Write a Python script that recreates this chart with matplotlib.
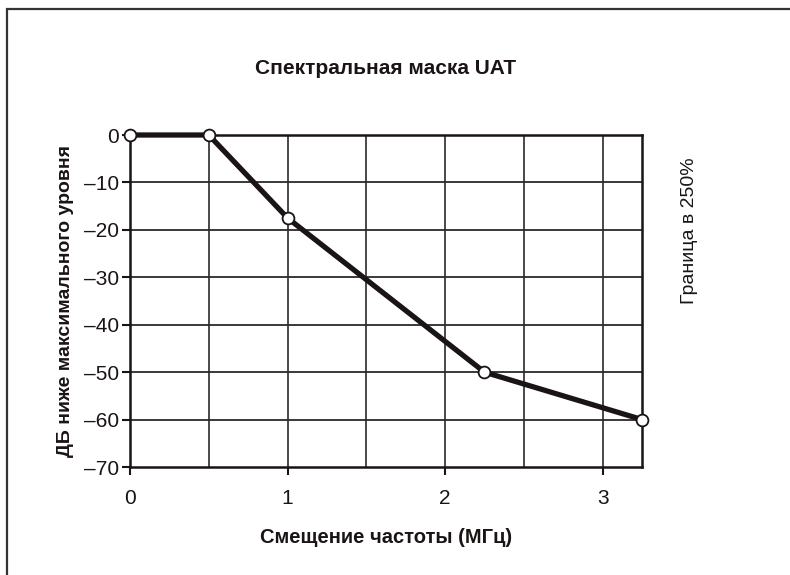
import matplotlib
matplotlib.use('Agg')
import matplotlib.pyplot as plt
from matplotlib.patches import Rectangle
import numpy as np

plt.rcParams['font.family'] = ['Liberation Sans Narrow', 'Liberation Sans', 'DejaVu Sans']

# данные
freq = [0, 0.5, 1.0, 2.25, 3.25]        # МГц
level = [0, 0, -17.5, -50, -60]          # дБ
xticks = [0, 1, 2, 3]
yticks = [0, -10, -20, -30, -40, -50, -60, -70]
ytick_labels = ['0', '–10', '–20', '–30', '–40', '–50', '–60', '–70']
xgrid = [0.5, 1.0, 1.5, 2.0, 2.5, 3.0]

fig = plt.figure(figsize=(7.9, 5.75), dpi=100)
ax = fig.add_axes([0.1646, 0.1878, 0.6481, 0.5774])

# рамка вокруг рисунка (видны левая и верхняя стороны)
fig.patches.append(Rectangle((7/790, -0.1), 1.2, 1 - 9/575 + 0.1,
                             transform=fig.transFigure, fill=False,
                             edgecolor='#333333', lw=1.6))

for xv in xgrid:
    ax.axvline(xv, color='#3a3a3a', lw=1.3, zorder=1)
for yv in yticks[1:-1]:
    ax.axhline(yv, color='#2a2a2a', lw=1.3, zorder=1)

ax.plot(freq, level, color='#1a1414', lw=3.8, marker='o', ms=8.5,
        mfc='white', mec='#1a1414', mew=1.3, zorder=3, clip_on=False)

ax.set_xlim(0, 3.25)
ax.set_ylim(-70, 0)
ax.set_xticks(xticks)
ax.set_xticklabels([str(v) for v in xticks])
ax.set_yticks(yticks)
ax.set_yticklabels(ytick_labels)
ax.tick_params(axis='both', direction='out', length=6, width=1.5,
               labelsize=15, colors='#1a1414')
ax.tick_params(axis='x', pad=10)
ax.tick_params(axis='y', pad=2)
for sp in ax.spines.values():
    sp.set_linewidth(1.8)
    sp.set_color('#1a1414')

ax.set_xlabel('Смещение частоты (МГц)', fontsize=14.5, fontweight='bold',
              labelpad=14, color='#1a1414')
ax.set_ylabel('ДБ ниже максимального уровня', fontsize=14, fontweight='bold',
              color='#1a1414')
ax.yaxis.set_label_coords(-0.11, 0.5)
fig.text(386/790, 1 - 68/575, 'Спектральная маска UAT', fontsize=15,
         fontweight='bold', ha='center', va='center', color='#1a1414')
fig.text(690/790, 1 - 231/575, 'Граница в 250%', rotation=90, fontsize=14,
         ha='center', va='center', color='#1a1414')

fig.savefig('out.png', dpi=100)
